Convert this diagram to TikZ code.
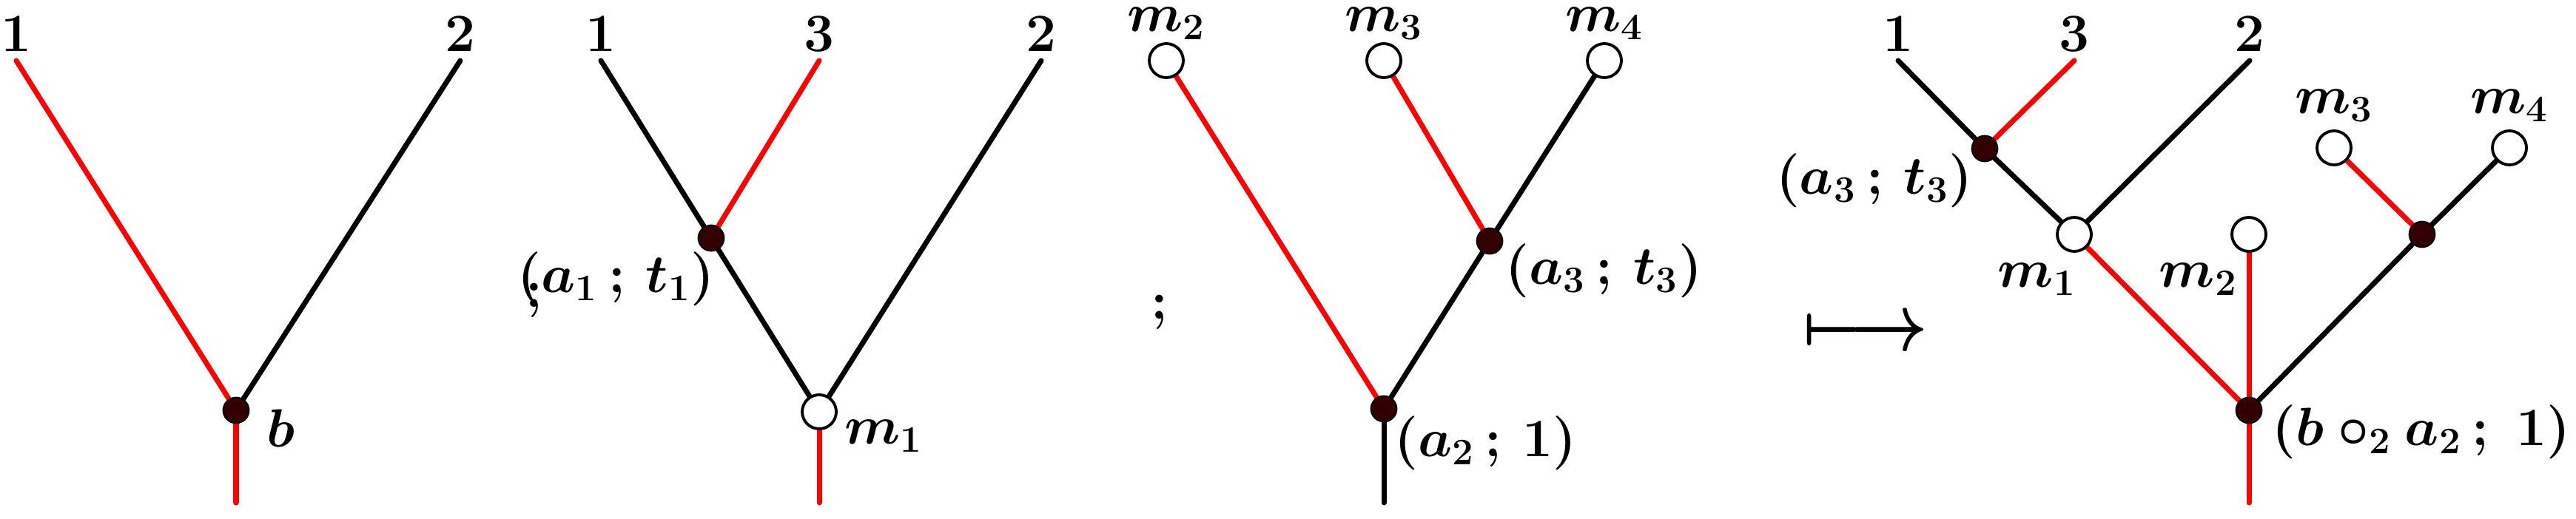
\documentclass[tikz,border=0pt]{standalone}
\usepackage{amsmath,amssymb}
\usetikzlibrary{positioning}

\definecolor{vtxfill}{RGB}{51,0,0}
\pgfdeclarelayer{bg}
\pgfsetlayers{bg,main}

\tikzset{
	branch/.style={line width=2pt, line cap=round},
	fullv/.style={circle, draw=black, fill=vtxfill, line width=0.5pt, inner sep=0pt, minimum size=3.5mm},
	openv/.style={circle, draw=black, fill=white, line width=1.1pt, inner sep=0pt, minimum size=4.6mm},
	lab/.style={inner sep=0pt, font=\fontsize{20}{24}\selectfont\boldmath},
}

\begin{document}
\begin{tikzpicture}
	\useasboundingbox (0,0) rectangle (34.81,7.01);

	% tree b
	\coordinate (l1) at (0.22,6.19);
	\coordinate (l2) at (6.22,6.19);
	\node[fullv] (b) at (3.19,1.46) {};
	\coordinate (r1) at (3.19,0.21);

	\node[lab, above=1.2mm of l1] (t11) {$1$};
	\node[lab, above=1.2mm of l2] (t12) {$2$};
	\node[lab, anchor=north west, xshift=4.1mm, yshift=0.2mm] (bl) at (b) {$b$};

	\begin{pgfonlayer}{bg}
		\draw[branch, red]		(l1) to (b);
		\draw[branch, black]	(l2) to (b);
		\draw[branch, red]		(b) to (r1);
	\end{pgfonlayer}

	\node[lab] (semi1) at (7.22,2.95) {$;$};

	% tree a1, m1
	\coordinate (p1) at (8.12,6.19);
	\coordinate (p3) at (11.07,6.19);
	\coordinate (p2) at (14.07,6.19);
	\node[fullv] (a1) at (9.61,3.79) {};
	\node[openv] (m1) at (11.07,1.44) {};
	\coordinate (r2) at (11.07,0.21);

	\node[lab, above=1.2mm of p1] (t21) {$1$};
	\node[lab, above=1.2mm of p3] (t23) {$3$};
	\node[lab, above=1.2mm of p2] (t22) {$2$};
	\node[lab, anchor=north east, xshift=0.5mm, yshift=-1.8mm] (a1l) at (a1) {$(a_1\,;\,t_1)$};
	\node[lab, anchor=north west, xshift=3.4mm, yshift=-1.0mm] (m1l) at (m1) {$m_1$};

	\begin{pgfonlayer}{bg}
		\draw[branch, black]	(p1) to (a1);
		\draw[branch, red]		(p3) to (a1);
		\draw[branch, black]	(a1) to (m1);
		\draw[branch, black]	(p2) to (m1);
		\draw[branch, red]		(m1) to (r2);
	\end{pgfonlayer}

	\node[lab] (semi2) at (15.67,2.79) {$;$};

	% tree a2, a3
	\node[openv] (m2) at (15.76,6.19) {};
	\node[openv] (m3) at (18.70,6.19) {};
	\node[openv] (m4) at (21.68,6.19) {};
	\node[fullv] (a3) at (20.13,3.75) {};
	\node[fullv] (a2) at (18.70,1.48) {};
	\coordinate (r3) at (18.70,0.21);

	\node[lab, above=0.3mm of m2] (m2l) {$m_2$};
	\node[lab, above=0.3mm of m3] (m3l) {$m_3$};
	\node[lab, above=0.3mm of m4] (m4l) {$m_4$};
	\node[lab, anchor=north west, xshift=2.1mm, yshift=-0.3mm] (a3l) at (a3) {$(a_3\,;\,t_3)$};
	\node[lab, anchor=north west, xshift=1.4mm, yshift=-0.9mm] (a2l) at (a2) {$(a_2\,;\,1)$};

	\begin{pgfonlayer}{bg}
		\draw[branch, red]		(m2) to (a2);
		\draw[branch, red]		(m3) to (a3);
		\draw[branch, black]	(m4) to (a3);
		\draw[branch, black]	(a3) to (a2);
		\draw[branch, black]	(a2) to (r3);
	\end{pgfonlayer}

	\node[lab] (maps) at (25.21,2.49) {\scalebox{1.25}[1.5]{$\longmapsto$}};

	% composite tree
	\coordinate (q1) at (25.65,6.19);
	\coordinate (q3) at (28.03,6.19);
	\coordinate (q2) at (30.40,6.19);
	\node[fullv] (c3) at (26.82,5.00) {};
	\node[openv] (n1) at (28.03,3.84) {};
	\node[openv] (n2) at (30.39,3.84) {};
	\node[openv] (n3) at (31.54,5.01) {};
	\node[openv] (n4) at (33.91,5.01) {};
	\node[fullv] (c4) at (32.73,3.84) {};
	\node[fullv] (c0) at (30.39,1.46) {};
	\coordinate (r4) at (30.39,0.21);

	\node[lab, above=1.2mm of q1] (t41) {$1$};
	\node[lab, above=1.2mm of q3] (t43) {$3$};
	\node[lab, above=1.2mm of q2] (t42) {$2$};
	\node[lab, anchor=north east, xshift=-1.6mm, yshift=-0.6mm] (c3l) at (c3) {$(a_3\,;\,t_3)$};
	\node[lab, anchor=north east, xshift=0.3mm, yshift=-3.8mm] (n1l) at (n1) {$m_1$};
	\node[lab, anchor=north east, xshift=-1.5mm, yshift=-3.8mm] (n2l) at (n2) {$m_2$};
	\node[lab, above=1mm of n3] (n3l) {$m_3$};
	\node[lab, above=1mm of n4] (n4l) {$m_4$};
	\node[lab, anchor=north west, xshift=3.1mm, yshift=0.8mm] (c0l) at (c0) {$(b\circ_2 a_2\,;\;1)$};

	\begin{pgfonlayer}{bg}
		\draw[branch, black]	(q1) to (c3);
		\draw[branch, red]		(q3) to (c3);
		\draw[branch, black]	(c3) to (n1);
		\draw[branch, black]	(q2) to (n1);
		\draw[branch, red]		(n1) to (c0);
		\draw[branch, red]		(n2) to (c0);
		\draw[branch, red]		(n3) to (c4);
		\draw[branch, black]	(n4) to (c4);
		\draw[branch, black]	(c4) to (c0);
		\draw[branch, red]		(c0) to (r4);
	\end{pgfonlayer}
\end{tikzpicture}
\end{document}
